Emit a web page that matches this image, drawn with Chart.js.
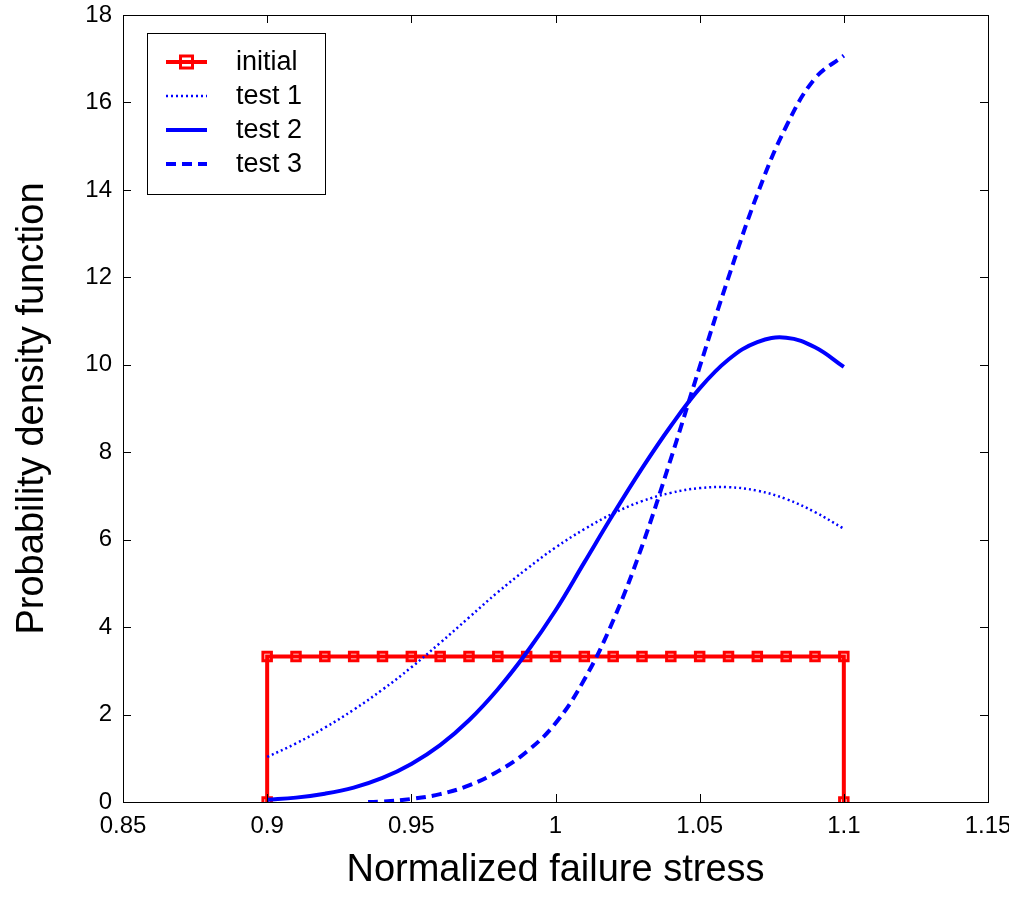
<!DOCTYPE html>
<html>
<head>
<meta charset="utf-8">
<script src="https://cdn.jsdelivr.net/npm/chart.js@4/dist/chart.umd.min.js"></script>
<style>
  html, body { margin: 0; padding: 0; background: #fff; }
  #wrap { width: 1009px; height: 913px; }
</style>
</head>
<body>
<div id="wrap"><canvas id="pdfChart" width="1009" height="913"></canvas></div>
<script>
// ---------------- DATA ----------------
const xTicks = [0.85, 0.9, 0.95, 1, 1.05, 1.1, 1.15];
const yTicks = [0, 2, 4, 6, 8, 10, 12, 14, 16, 18];

// initial: uniform density on [0.9, 1.1]
const initialX = [0.9, 0.9, 0.91, 0.92, 0.93, 0.94, 0.95, 0.96, 0.97, 0.98, 0.99, 1.0,
                  1.01, 1.02, 1.03, 1.04, 1.05, 1.06, 1.07, 1.08, 1.09, 1.1, 1.1];
const initialY = [0, 3.33, 3.33, 3.33, 3.33, 3.33, 3.33, 3.33, 3.33, 3.33, 3.33, 3.33,
                  3.33, 3.33, 3.33, 3.33, 3.33, 3.33, 3.33, 3.33, 3.33, 3.33, 0];

const testX = [0.9, 0.91, 0.92, 0.93, 0.94, 0.95, 0.96, 0.97, 0.98, 0.99, 1.0,
               1.01, 1.02, 1.03, 1.04, 1.05, 1.06, 1.07, 1.08, 1.09, 1.1];
const test1Y = [1.03, 1.34, 1.70, 2.11, 2.57, 3.08, 3.64, 4.22, 4.80, 5.33, 5.82,
                6.24, 6.60, 6.88, 7.07, 7.18, 7.20, 7.12, 6.93, 6.63, 6.25];
const test2Y = [0.05, 0.10, 0.19, 0.33, 0.55, 0.87, 1.30, 1.87, 2.58, 3.42, 4.38,
                5.48, 6.58, 7.63, 8.60, 9.46, 10.12, 10.52, 10.62, 10.40, 9.95];

const test3X = [0.935, 0.94, 0.95, 0.96, 0.97, 0.98, 0.99, 1.0,
                1.01, 1.02, 1.03, 1.04, 1.05, 1.06, 1.07, 1.08, 1.09, 1.1];
const test3Y = [0, 0.01, 0.07, 0.18, 0.38, 0.70, 1.15, 1.80,
                2.80, 4.15, 5.85, 7.85, 9.95, 12.0, 13.9, 15.45, 16.55, 17.07];

const toPoints = (xs, ys) => xs.map((x, i) => ({ x: x, y: ys[i] }));

const RED = '#ff0000';
const BLUE = '#0000ff';
const FONT = "'Liberation Sans', Arial, sans-serif";

// ---------------- FRAME + INWARD TICKS ----------------
const framePlugin = {
  id: 'frame',
  afterDraw(chart) {
    const { ctx, chartArea: a, scales } = chart;
    const len = 8;
    ctx.save();
    ctx.strokeStyle = '#000';
    ctx.lineWidth = 1;
    ctx.strokeRect(a.left + 0.5, a.top + 0.5, a.right - a.left, a.bottom - a.top);
    ctx.beginPath();
    xTicks.forEach(v => {
      const px = Math.round(scales.x.getPixelForValue(v)) + 0.5;
      ctx.moveTo(px, a.bottom); ctx.lineTo(px, a.bottom - len);
      ctx.moveTo(px, a.top); ctx.lineTo(px, a.top + len);
    });
    yTicks.forEach(v => {
      const py = Math.round(scales.y.getPixelForValue(v)) + 0.5;
      ctx.moveTo(a.left, py); ctx.lineTo(a.left + len, py);
      ctx.moveTo(a.right, py); ctx.lineTo(a.right - len, py);
    });
    ctx.stroke();
    ctx.restore();
  }
};

// ---------------- LEGEND (inside axes, top left) ----------------
const legendPlugin = {
  id: 'boxLegend',
  afterDraw(chart) {
    const { ctx, chartArea: a } = chart;
    const bx = a.left + 24, by = a.top + 18, bw = 178, bh = 161;
    ctx.save();
    ctx.fillStyle = '#fff';
    ctx.fillRect(bx, by, bw, bh);
    ctx.strokeStyle = '#000';
    ctx.lineWidth = 1;
    ctx.strokeRect(bx + 0.5, by + 0.5, bw, bh);

    const legendOrder = [3, 2, 1, 0];
    legendOrder.forEach((di, row) => {
      const ds = chart.data.datasets[di];
      const cy = by + 29 + row * 34;
      const x0 = bx + 19, x1 = bx + 60;
      ctx.beginPath();
      ctx.strokeStyle = ds.borderColor;
      ctx.lineWidth = ds.borderWidth;
      ctx.setLineDash(ds.borderDash || []);
      ctx.moveTo(x0, cy); ctx.lineTo(x1, cy);
      ctx.stroke();
      ctx.setLineDash([]);
      if (ds.pointRadius > 0) {
        const r = ds.pointRadius;
        ctx.lineWidth = ds.pointBorderWidth;
        ctx.strokeRect((x0 + x1) / 2 - r, cy - r, 2 * r, 2 * r);
      }
      ctx.fillStyle = '#000';
      ctx.font = '27px ' + FONT;
      ctx.textBaseline = 'middle';
      ctx.textAlign = 'left';
      ctx.fillText(ds.label, bx + 89, cy + 1);
    });
    ctx.restore();
  }
};

// ---------------- CHART ----------------
new Chart(document.getElementById('pdfChart'), {
  type: 'line',
  data: {
    datasets: [
      {
        label: 'test 3',
        data: toPoints(test3X, test3Y),
        borderColor: BLUE,
        borderWidth: 4,
        borderDash: [10, 6],
        pointRadius: 0,
        tension: 0.4,
        order: 1
      },
      {
        label: 'test 2',
        data: toPoints(testX, test2Y),
        borderColor: BLUE,
        borderWidth: 4,
        pointRadius: 0,
        tension: 0.4,
        order: 2
      },
      {
        label: 'test 1',
        data: toPoints(testX, test1Y),
        borderColor: BLUE,
        borderWidth: 2.5,
        borderDash: [2, 3],
        pointRadius: 0,
        tension: 0.4,
        order: 3
      },
      {
        label: 'initial',
        data: toPoints(initialX, initialY),
        borderColor: RED,
        borderWidth: 4,
        tension: 0,
        pointStyle: 'rect',
        pointRadius: 6,
        pointBorderWidth: 3,
        pointBorderColor: RED,
        pointBackgroundColor: 'rgba(0,0,0,0)',
        order: 4
      }
    ]
  },
  options: {
    responsive: false,
    animation: false,
    events: [],
    layout: { padding: { left: 0, right: 21, top: 15, bottom: 0 } },
    plugins: {
      legend: { display: false },
      tooltip: { enabled: false }
    },
    scales: {
      x: {
        type: 'linear',
        min: 0.85,
        max: 1.15,
        afterBuildTicks: s => { s.ticks = xTicks.map(v => ({ value: v })); },
        afterFit: s => { s.height = 111; s.paddingLeft = 0; s.paddingRight = 0; },
        grid: { display: false, drawTicks: false },
        border: { display: false },
        ticks: {
          color: '#000',
          font: { family: FONT, size: 24 },
          padding: 10,
          maxRotation: 0,
          autoSkip: false,
          callback: v => String(parseFloat(v.toFixed(2)))
        },
        title: {
          display: true,
          text: 'Normalized failure stress',
          color: '#000',
          font: { family: FONT, size: 38 },
          padding: { top: 0, bottom: 20 }
        }
      },
      y: {
        type: 'linear',
        min: 0,
        max: 18,
        afterBuildTicks: s => { s.ticks = yTicks.map(v => ({ value: v })); },
        afterFit: s => { s.width = 123; s.paddingTop = 0; s.paddingBottom = 0; },
        grid: { display: false, drawTicks: false },
        border: { display: false },
        ticks: {
          color: '#000',
          font: { family: FONT, size: 24 },
          padding: 11,
          autoSkip: false
        },
        title: {
          display: true,
          text: 'Probability density function',
          color: '#000',
          font: { family: FONT, size: 38 },
          padding: { top: 10, bottom: 0 }
        }
      }
    }
  },
  plugins: [framePlugin, legendPlugin]
});
</script>
</body>
</html>
